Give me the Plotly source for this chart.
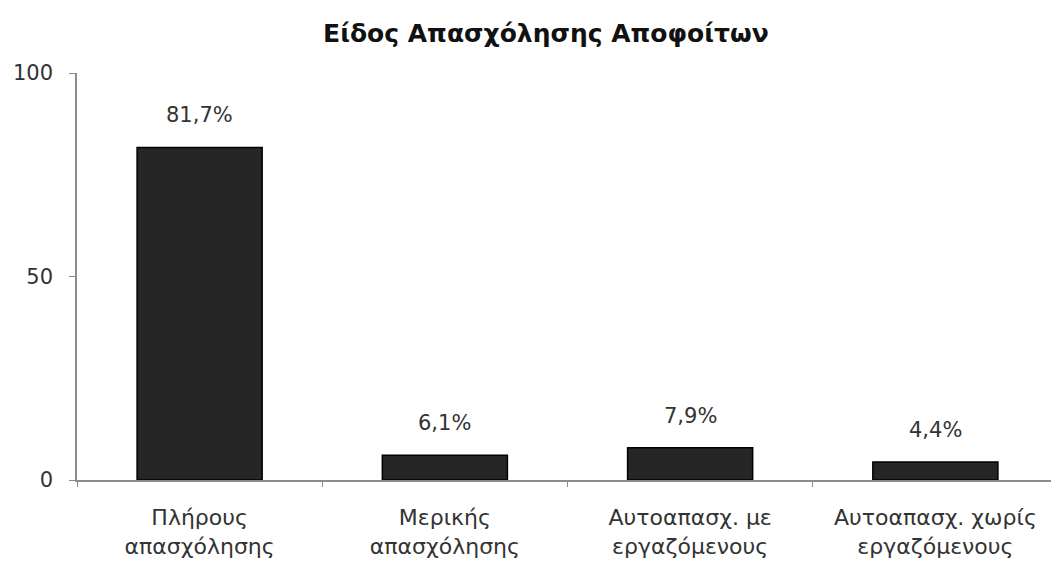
import plotly.graph_objects as go

categories = ["Πλήρους<br>απασχόλησης", "Μερικής<br>απασχόλησης",
              "Αυτοαπασχ. με<br>εργαζόμενους", "Αυτοαπασχ. χωρίς<br>εργαζόμενους"]
values = [81.7, 6.1, 7.9, 4.4]
value_labels = ["81,7%", "6,1%", "7,9%", "4,4%"]
title_text = "Είδος Απασχόλησης Αποφοίτων"
y_ticks = [0, 50, 100]

font_family = "DejaVu Sans, Verdana, sans-serif"
txt_color = "#333333"

fig = go.Figure()
fig.add_trace(go.Bar(
    x=categories, y=values,
    marker=dict(color="#262626", line=dict(color="#000000", width=1.5)),
    width=0.51,
    hoverinfo="skip",
))

for c, v, lab in zip(categories, values, value_labels):
    fig.add_annotation(x=c, y=v, text=lab, showarrow=False,
                       yanchor="bottom", yshift=18,
                       font=dict(family=font_family, size=21, color=txt_color))

fig.update_layout(
    width=1051, height=558,
    margin=dict(l=69, r=1, t=65, b=86),
    paper_bgcolor="white", plot_bgcolor="white",
    showlegend=False,
    title=dict(text="<b>" + title_text + "</b>", x=0.478, xref="paper",
               xanchor="center", y=0.955, yanchor="middle",
               font=dict(family=font_family, size=25, color="#111111")),
    bargap=0.49,
)
fig.update_xaxes(
    showline=True, linecolor="#8c8c8c", linewidth=1.5,
    ticks="outside", tickson="boundaries", ticklen=5, tickcolor="#8c8c8c",
    showgrid=False, zeroline=False,
    tickfont=dict(family=font_family, size=22, color=txt_color),
    ticklabelstandoff=17,
)
fig.update_yaxes(
    range=[0, 100], tickvals=y_ticks,
    showline=True, linecolor="#8c8c8c", linewidth=1.5,
    ticks="outside", ticklen=6, tickcolor="#8c8c8c",
    showgrid=False, zeroline=False,
    tickfont=dict(family=font_family, size=21, color=txt_color),
    ticklabelstandoff=12,
)

fig.write_html("out.html")
